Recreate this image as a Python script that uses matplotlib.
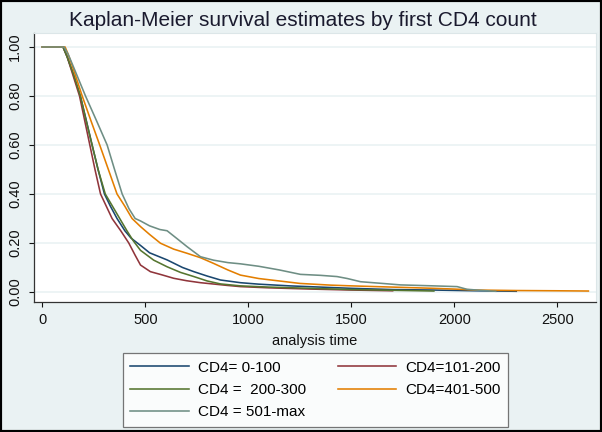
import matplotlib
matplotlib.use("Agg")
import matplotlib.pyplot as plt
from matplotlib.patches import Rectangle

plt.rcParams['font.family'] = ['Liberation Sans', 'DejaVu Sans']

# ---- data ----
labels = ["CD4= 0-100", "CD4=101-200", "CD4 =  200-300", "CD4=401-500", "CD4 = 501-max"]
colors = ["#1a476f", "#90353b", "#55752f", "#e37e00", "#6e8e84"]

t_0_100 = [0, 100, 120, 150, 184, 210, 241, 270, 301, 330, 362, 400, 430, 476, 520, 605, 680, 735, 800, 864,
           961, 1050, 1200, 1350, 1500, 1700, 1900, 2100, 2300]
s_0_100 = [1, 1, 0.96, 0.89, 0.80, 0.71, 0.60, 0.50, 0.40, 0.35, 0.30, 0.25, 0.22, 0.19, 0.16, 0.131, 0.10,
           0.083, 0.065, 0.049, 0.038, 0.032, 0.025, 0.02, 0.015, 0.01, 0.008, 0.005, 0.003]

t_101_200 = [0, 100, 120, 150, 180, 205, 230, 255, 282, 310, 338, 380, 419, 450, 476, 524, 580, 637, 700, 767,
             896, 961, 1100, 1300, 1500, 1700]
s_101_200 = [1, 1, 0.96, 0.88, 0.80, 0.70, 0.60, 0.50, 0.40, 0.35, 0.30, 0.25, 0.20, 0.15, 0.11, 0.083, 0.07,
             0.056, 0.046, 0.038, 0.027, 0.022, 0.017, 0.012, 0.008, 0.005]

t_200_300 = [0, 100, 120, 150, 184, 212, 241, 270, 305, 340, 375, 410, 440, 476, 540, 605, 670, 735, 800, 864,
             961, 1100, 1300, 1500, 1700, 1900]
s_200_300 = [1, 1, 0.96, 0.89, 0.80, 0.70, 0.60, 0.50, 0.40, 0.35, 0.30, 0.25, 0.21, 0.17, 0.13, 0.103, 0.08,
             0.063, 0.045, 0.033, 0.025, 0.02, 0.015, 0.01, 0.007, 0.004]

t_401_500 = [0, 110, 125, 150, 193, 235, 278, 320, 362, 400, 435, 476, 520, 573, 637, 702, 767, 830, 900, 961,
             1050, 1150, 1250, 1400, 1500, 1700, 1900, 2000, 2100, 2300, 2500, 2650]
s_401_500 = [1, 1, 0.97, 0.91, 0.80, 0.70, 0.60, 0.50, 0.40, 0.35, 0.30, 0.267, 0.235, 0.199, 0.175, 0.158,
             0.14, 0.117, 0.09, 0.069, 0.055, 0.045, 0.035, 0.028, 0.025, 0.02, 0.015, 0.012, 0.008, 0.006,
             0.005, 0.004]

t_501_max = [0, 105, 125, 150, 209, 262, 314, 350, 387, 420, 450, 476, 520, 570, 605, 650, 702, 767, 830, 900,
             961, 1050, 1150, 1252, 1350, 1430, 1480, 1544, 1650, 1738, 1900, 2013, 2061, 2175, 2200]
s_501_max = [1, 1, 0.97, 0.92, 0.80, 0.70, 0.60, 0.50, 0.40, 0.34, 0.30, 0.29, 0.27, 0.255, 0.25, 0.22, 0.185,
             0.144, 0.13, 0.12, 0.115, 0.105, 0.09, 0.072, 0.068, 0.063, 0.055, 0.042, 0.035, 0.029, 0.025,
             0.022, 0.011, 0.004, 0.003]

series = [(t_0_100, s_0_100), (t_101_200, s_101_200), (t_200_300, s_200_300),
          (t_401_500, s_401_500), (t_501_max, s_501_max)]

xticks = [0, 500, 1000, 1500, 2000, 2500]
yticks = [0.0, 0.2, 0.4, 0.6, 0.8, 1.0]
ytick_labels = ["0.00", "0.20", "0.40", "0.60", "0.80", "1.00"]

# ---- figure ----
W, H = 602, 432
fig = plt.figure(figsize=(W / 100, H / 100), dpi=100)
bg = "#eaf2f3"
fig.patch.set_facecolor(bg)

ax = fig.add_axes([34 / W, 1 - 302 / H, (596 - 34) / W, (302 - 33) / H])
ax.set_facecolor("white")

for y in yticks:
    ax.axhline(y, color=bg, lw=1.2, zorder=0)

handles = []
for (t, s), c, lab in zip(series, colors, labels):
    h, = ax.plot(t, s, color=c, lw=1.15, label=lab)
    handles.append(h)

ax.set_xlim(-41, 2687)
ax.set_ylim(-0.0408, 1.0571)
ax.set_xticks(xticks)
ax.set_xticklabels([str(v) for v in xticks])
ax.set_yticks(yticks)
ax.set_yticklabels(ytick_labels, rotation=90, va='center')

for side in ("top", "right"):
    ax.spines[side].set_color("#dce6e8")
    ax.spines[side].set_linewidth(0.8)
for side in ("left", "bottom"):
    ax.spines[side].set_color("#333333")
    ax.spines[side].set_linewidth(0.9)

ax.tick_params(axis='both', colors="#111111", labelsize=10.5, length=3.6, width=0.8, direction='out')
ax.tick_params(axis='y', pad=5)
ax.tick_params(axis='x', pad=4)

ax.set_xlabel("analysis time", fontsize=10.5, color="#111111", labelpad=5)

fig.text(303 / W, 1 - 21 / H, "Kaplan-Meier survival estimates by first CD4 count",
         ha='center', va='center', fontsize=15, color="#1a1a2e")

order = [0, 2, 4, 1, 3]
leg = fig.legend([handles[i] for i in order], [labels[i] for i in order],
                 loc='center', bbox_to_anchor=((118 + 513) / 2 / W, 1 - (353 + 427) / 2 / H),
                 ncol=2, fontsize=11, frameon=True, fancybox=False, handlelength=3.8,
                 handletextpad=0.6, columnspacing=2.1, labelspacing=0.55, borderpad=0.5,
                 borderaxespad=0)
leg.get_frame().set_edgecolor("#555555")
leg.get_frame().set_linewidth(0.9)
leg.get_frame().set_facecolor("white")

fig.patches.append(Rectangle((0, 0), 1, 1, transform=fig.transFigure, fill=False,
                             edgecolor="black", linewidth=3.0, zorder=10))

fig.savefig("out.png", dpi=100, facecolor=fig.get_facecolor())
